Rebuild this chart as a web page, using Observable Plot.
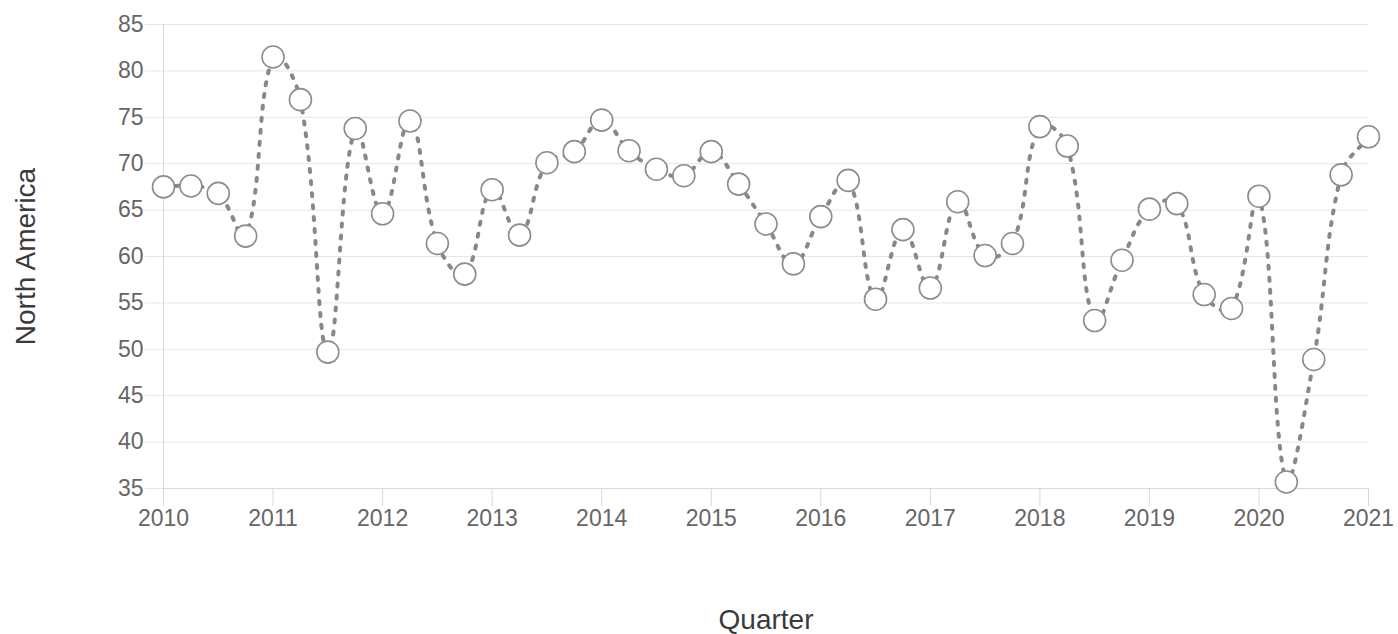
<!DOCTYPE html>
<html>
<head>
<meta charset="utf-8">
<script src="https://cdn.jsdelivr.net/npm/d3@7"></script>
<script src="https://cdn.jsdelivr.net/npm/@observablehq/plot@0.6"></script>
<style>
  html, body { margin: 0; padding: 0; background: #fff; }
</style>
</head>
<body>
<div id="chart"></div>
<script>
// ---- data ----
const quarters = [
  2010, 2010.25, 2010.5, 2010.75,
  2011, 2011.25, 2011.5, 2011.75,
  2012, 2012.25, 2012.5, 2012.75,
  2013, 2013.25, 2013.5, 2013.75,
  2014, 2014.25, 2014.5, 2014.75,
  2015, 2015.25, 2015.5, 2015.75,
  2016, 2016.25, 2016.5, 2016.75,
  2017, 2017.25, 2017.5, 2017.75,
  2018, 2018.25, 2018.5, 2018.75,
  2019, 2019.25, 2019.5, 2019.75,
  2020, 2020.25, 2020.5, 2020.75,
  2021
];
const northAmerica = [
  67.5, 67.6, 66.8, 62.2,
  81.5, 76.9, 49.7, 73.8,
  64.6, 74.6, 61.4, 58.1,
  67.2, 62.3, 70.1, 71.3,
  74.7, 71.4, 69.4, 68.7,
  71.3, 67.8, 63.5, 59.2,
  64.3, 68.2, 55.4, 62.9,
  56.6, 65.9, 60.1, 61.4,
  74.0, 71.9, 53.1, 59.6,
  65.1, 65.7, 55.9, 54.4,
  66.5, 35.7, 48.9, 68.8,
  72.9
];
const xTicks = [2010, 2011, 2012, 2013, 2014, 2015, 2016, 2017, 2018, 2019, 2020, 2021];
const yTicks = [35, 40, 45, 50, 55, 60, 65, 70, 75, 80, 85];
const xTitle = "Quarter";
const yTitle = "North America";

const data = quarters.map((q, i) => ({quarter: q, value: northAmerica[i]}));

// ---- layout ----
const W = 1398, H = 634;
const mL = 163, mR = 30, mT = 24, mB = 146;

// Spline like a tension-0.4 bezier line with control points kept inside the plot area
const TENSION = 0.4;
function splineCurve(context) {
  let pts = [];
  const clamp = ([x, y]) => [
    Math.max(mL, Math.min(W - mR, x)),
    Math.max(mT, Math.min(H - mB, y))
  ];
  return {
    areaStart() {}, areaEnd() {},
    lineStart() { pts = []; },
    point(x, y) { pts.push([+x, +y]); },
    lineEnd() {
      const n = pts.length;
      if (!n) return;
      const cps = pts.map((p, i) => {
        const a = pts[i - 1] || p, b = pts[i + 1] || p;
        const d01 = Math.hypot(p[0] - a[0], p[1] - a[1]);
        const d12 = Math.hypot(b[0] - p[0], b[1] - p[1]);
        const s = d01 + d12;
        const fa = s ? TENSION * d01 / s : 0;
        const fb = s ? TENSION * d12 / s : 0;
        const dx = b[0] - a[0], dy = b[1] - a[1];
        return {
          prev: clamp([p[0] - fa * dx, p[1] - fa * dy]),
          next: clamp([p[0] + fb * dx, p[1] + fb * dy])
        };
      });
      context.moveTo(pts[0][0], pts[0][1]);
      for (let i = 1; i < n; i++) {
        context.bezierCurveTo(
          cps[i - 1].next[0], cps[i - 1].next[1],
          cps[i].prev[0], cps[i].prev[1],
          pts[i][0], pts[i][1]
        );
      }
    }
  };
}

const gridColor = "#e6e6e6";
const axisColor = "#d9d9d9";
const tickText = "#666666";
const titleText = "#3a3a3a";

const chart = Plot.plot({
  width: W,
  height: H,
  marginLeft: mL,
  marginRight: mR,
  marginTop: mT,
  marginBottom: mB,
  style: {fontFamily: "'Liberation Sans', Arial, Helvetica, sans-serif", background: "#fff"},
  x: {type: "linear", domain: [xTicks[0], xTicks[xTicks.length - 1]]},
  y: {type: "linear", domain: [yTicks[0], yTicks[yTicks.length - 1]]},
  marks: [
    Plot.gridY(yTicks, {stroke: gridColor, strokeOpacity: 1}),
    Plot.axisY(yTicks, {
      tickSize: 18, tickPadding: 2, stroke: gridColor, strokeOpacity: 1,
      fill: tickText, fontSize: 23, label: null
    }),
    Plot.axisX(xTicks, {
      tickSize: 18, tickPadding: 3, stroke: axisColor, strokeOpacity: 1,
      fill: tickText, fontSize: 23, tickFormat: "d", label: null
    }),
    Plot.ruleY([yTicks[0]], {stroke: axisColor}),
    Plot.ruleX([xTicks[0]], {stroke: axisColor}),
    Plot.line(data, {
      x: "quarter", y: "value", curve: splineCurve,
      stroke: "#888888", strokeWidth: 4, strokeDasharray: "3,9"
    }),
    Plot.dot(data, {
      x: "quarter", y: "value", r: 11,
      fill: "#fff", stroke: "#8c8c8c", strokeWidth: 1.6
    }),
    Plot.text([yTitle], {
      text: d => d, frameAnchor: "left", dx: -137, rotate: -90,
      textAnchor: "middle", lineAnchor: "middle",
      fontSize: 28, fill: titleText
    }),
    Plot.text([xTitle], {
      text: d => d, frameAnchor: "bottom", dy: 132,
      textAnchor: "middle", lineAnchor: "middle",
      fontSize: 28, fill: titleText
    })
  ]
});
document.getElementById("chart").appendChild(chart);
</script>
</body>
</html>
